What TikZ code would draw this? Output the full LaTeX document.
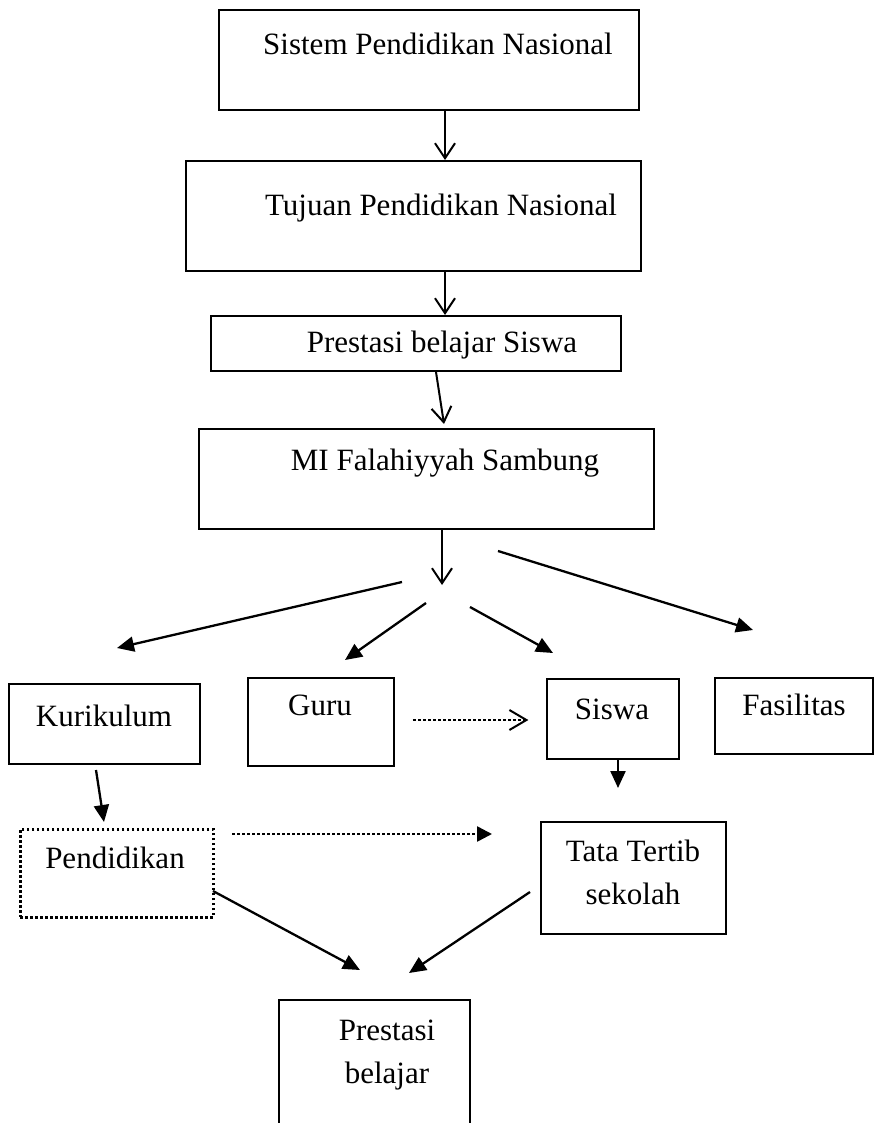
\documentclass[tikz,border=0pt]{standalone}
\usepackage{fontspec}
\setmainfont{Liberation Serif}
\usetikzlibrary{arrows.meta}
\begin{document}
\begin{tikzpicture}[x=1pt,y=-1pt,
  box/.style={draw, line width=2pt, inner sep=0pt, anchor=north west},
  dotbox/.style={draw, line width=2.5pt, dash pattern=on 2.5pt off 2.5pt, inner sep=0pt, anchor=north west},
  txt/.style={font=\fontsize{31}{42.5}\selectfont, anchor=base, align=center, inner sep=0pt},
  varrow/.style={line width=2pt, -{Straight Barb[length=15pt, width=20pt, line width=2pt]}},
  farrow/.style={line width=2.3pt, -{Triangle[length=17pt, width=15pt]}},
  dotvarrow/.style={line width=2.5pt, dash pattern=on 2.5pt off 2.5pt, -{Straight Barb[length=17pt, width=20pt, line width=2pt, sep]}},
  dotfarrow/.style={line width=2.5pt, dash pattern=on 2.5pt off 2.5pt, -{Triangle[length=15pt, width=15pt]}}
]
\useasboundingbox (0,0) rectangle (874,1123);

% boxes
\node[box, minimum width=420pt, minimum height=100pt] (b1) at (218,9) {};
\node[txt] (t1) at (438,55) {Sistem Pendidikan Nasional};

\node[box, minimum width=455pt, minimum height=110pt] (b2) at (185,160) {};
\node[txt] (t2) at (441,215) {Tujuan Pendidikan Nasional};

\node[box, minimum width=410pt, minimum height=55pt] (b3) at (210,315) {};
\node[txt] (t3) at (442,352) {Prestasi belajar Siswa};

\node[box, minimum width=455pt, minimum height=100pt] (b4) at (198,428) {};
\node[txt] (t4) at (445,470) {MI Falahiyyah Sambung};

\node[box, minimum width=191pt, minimum height=80pt] (kur) at (8,683) {};
\node[txt] (tkur) at (104,726) {Kurikulum};

\node[box, minimum width=146pt, minimum height=88pt] (guru) at (247,677) {};
\node[txt] (tguru) at (320,715) {Guru};

\node[box, minimum width=132pt, minimum height=80pt] (siswa) at (546,678) {};
\node[txt] (tsiswa) at (612,719) {Siswa};

\node[box, minimum width=158pt, minimum height=76pt] (fas) at (714,677) {};
\node[txt] (tfas) at (794,715) {Fasilitas};

\node[dotbox, minimum width=193pt, minimum height=88pt] (pend) at (19,828) {};
\node[txt] (tpend) at (115,868) {Pendidikan};

\node[box, minimum width=185pt, minimum height=112pt] (tata) at (540,821) {};
\node[txt] (ttata) at (633,904) {Tata Tertib\\sekolah};

\coordinate (pbl) at (279,1123);
\coordinate (pbtl) at (279,1000);
\coordinate (pbtr) at (470,1000);
\coordinate (pbr) at (470,1123);
\draw[line width=2pt] (pbl) -- (pbtl) -- (pbtr) -- (pbr);
\node[txt] (tpb) at (387,1083) {Prestasi\\belajar};

% arrows
\draw[varrow] (b1.south -| 445,0) -- (b2.north -| 445,0);
\draw[varrow] (b2.south -| 445,0) -- (b3.north -| 445,0);
\coordinate (a3s) at (436,372);
\coordinate (a3e) at (444,424);
\draw[varrow] (a3s) -- (a3e);
\coordinate (a4e) at (442,585);
\draw[varrow] (b4.south -| a4e) -- (a4e);

\coordinate (fk1) at (402,582);  \coordinate (fk2) at (117,648);
\coordinate (fg1) at (426,603);  \coordinate (fg2) at (345,660);
\coordinate (fs1) at (470,607);  \coordinate (fs2) at (553,653);
\coordinate (ff1) at (498,551);  \coordinate (ff2) at (753,630);
\draw[farrow] (fk1) -- (fk2);
\draw[farrow] (fg1) -- (fg2);
\draw[farrow] (fs1) -- (fs2);
\draw[farrow] (ff1) -- (ff2);

\coordinate (gs1) at (413,720); \coordinate (gs2) at (530,720);
\draw[dotvarrow] (gs1) -- (gs2);

\coordinate (kp1) at (96,770); \coordinate (kp2) at (104,822);
\draw[farrow] (kp1) -- (kp2);

\coordinate (st2) at (618,788);
\draw[farrow] (siswa.south -| st2) -- (st2);

\coordinate (pt1) at (232,834); \coordinate (pt2) at (492,834);
\draw[dotfarrow] (pt1) -- (pt2);

\coordinate (pp1) at (213,891); \coordinate (pp2) at (360,970);
\draw[farrow] (pp1) -- (pp2);
\coordinate (tp1) at (530,892); \coordinate (tp2) at (409,973);
\draw[farrow] (tp1) -- (tp2);
\end{tikzpicture}
\end{document}
